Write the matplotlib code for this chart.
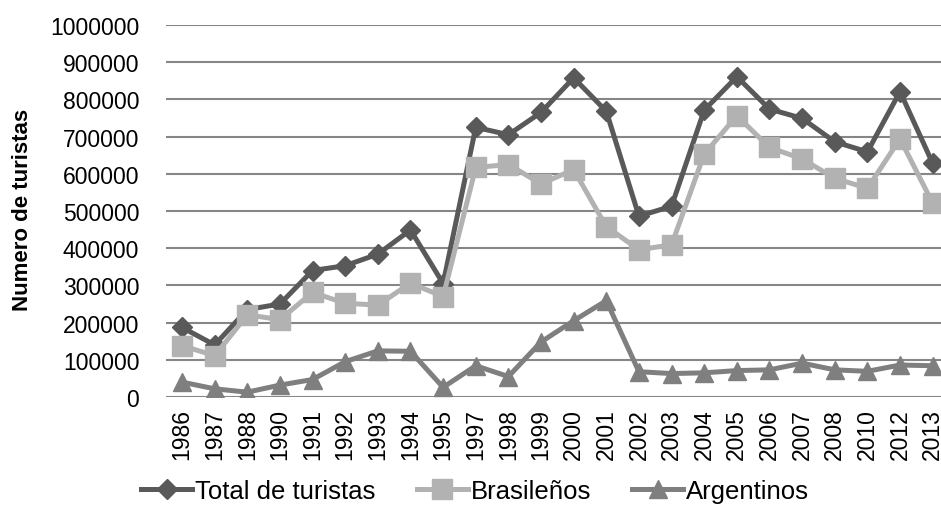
import matplotlib.pyplot as plt

plt.rcParams['font.family'] = ['Liberation Sans', 'DejaVu Sans']

years = ['1986', '1987', '1988', '1990', '1991', '1992', '1993', '1994',
         '1995', '1997', '1998', '1999', '2000', '2001', '2002', '2003',
         '2004', '2005', '2006', '2007', '2008', '2010', '2012', '2013']

total = [187000, 140000, 235000, 250000, 340000, 353000, 384000, 449000,
         305000, 725000, 705000, 765000, 858000, 768000, 486000, 513000,
         771000, 861000, 774000, 749000, 686000, 659000, 821000, 628000]

brasilenos = [138000, 111000, 221000, 208000, 281000, 252000, 247000, 306000,
              270000, 617000, 625000, 573000, 611000, 458000, 396000, 409000,
              653000, 756000, 671000, 640000, 588000, 561000, 694000, 521000]

argentinos = [40000, 22000, 13000, 32000, 47000, 95000, 124000, 123000,
              26000, 84000, 55000, 148000, 205000, 259000, 68000, 63000,
              65000, 71000, 73000, 91000, 73000, 69000, 86000, 84000]

x = list(range(len(years)))

fig = plt.figure(figsize=(9.41, 5.10), dpi=100)
ax = fig.add_axes([165.7 / 941, 1 - 398 / 510, 783.3 / 941, 372 / 510])

ax.plot(x, total, color='#595959', linewidth=3.6, marker='D', markersize=10,
        label='Total de turistas')
ax.plot(x, brasilenos, color='#b2b2b2', linewidth=3.6, marker='s',
        markersize=14, label='Brasileños')
ax.plot(x, argentinos, color='#7f7f7f', linewidth=3.6, marker='^',
        markersize=13, label='Argentinos')

ax.set_xlim(-0.5, 23.5)
ax.set_ylim(0, 1000000)
ax.set_yticks(range(0, 1000001, 100000))
ax.set_yticklabels([str(v) for v in range(0, 1000001, 100000)])
ax.set_xticks(x)
ax.set_xticklabels(years, rotation=90)
ax.tick_params(axis='both', length=0, labelsize=16.5, labelcolor='black')
ax.tick_params(axis='y', pad=19)
ax.tick_params(axis='x', pad=8)

ax.grid(axis='y', color='#868686', linewidth=1.5)
ax.set_axisbelow(True)
for s in ax.spines.values():
    s.set_visible(False)

fig.text(23 / 941, 1 - 210 / 510, 'Numero de turistas', rotation=90,
         fontsize=16, fontweight='bold', ha='center', va='center')

fig.legend(loc='center', bbox_to_anchor=(475 / 941, 1 - 492 / 510), ncol=3,
           frameon=False, fontsize=18.5, handlelength=2.0, handletextpad=0.1,
           columnspacing=1.6)

fig.savefig('out.png', dpi=100)
